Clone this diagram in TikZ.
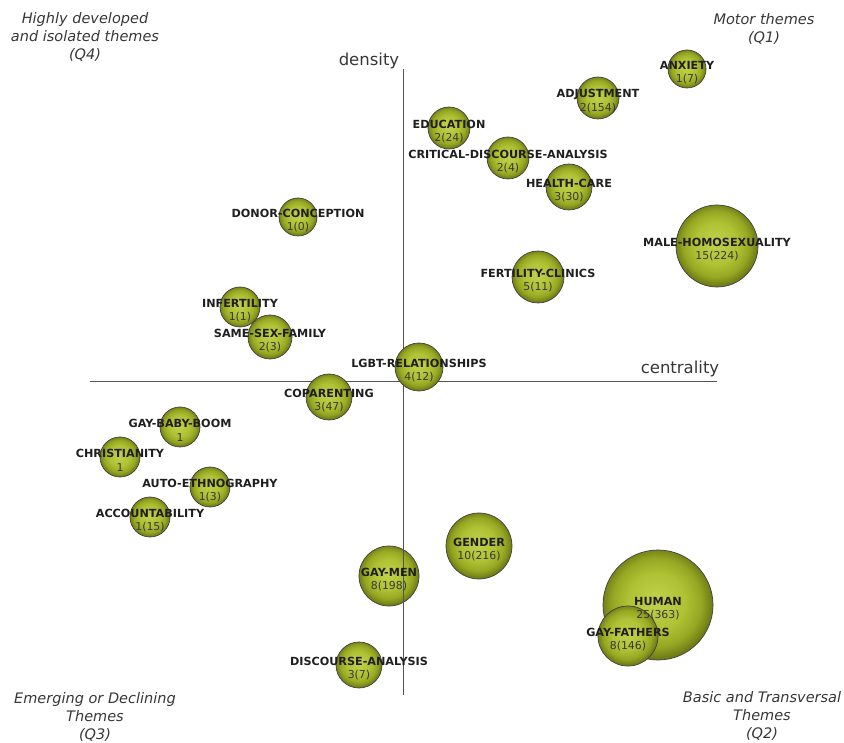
\documentclass[tikz,border=0pt]{standalone}
\usepackage{fontspec}
\setmainfont{DejaVu Sans}
\definecolor{bl}{RGB}{192,210,78}
\definecolor{bm}{RGB}{174,194,52}
\definecolor{bd}{RGB}{150,168,35}
\definecolor{bdd}{RGB}{112,125,22}
\definecolor{axisgray}{RGB}{85,85,85}
\definecolor{txtgray}{RGB}{55,55,55}
\pgfdeclareradialshading{bubble}{\pgfpoint{-1bp}{2bp}}{color(0bp)=(bl); color(13bp)=(bm); color(20bp)=(bd); color(25bp)=(bdd); color(50bp)=(bdd)}
\tikzset{
  bub/.style={circle, draw=black!75, line width=0.7pt, shading=bubble, inner sep=0pt, minimum size=#1},
  lab/.style={font=\bfseries\fontsize{11.2}{12}\selectfont, text=black!88, inner sep=0pt},
  num/.style={font=\fontsize{10.9}{12}\selectfont, text=txtgray, inner sep=0pt},
  axisline/.style={draw=axisgray, line width=0.8pt},
  axlab/.style={font=\fontsize{16.5}{18}\selectfont, text=txtgray, inner sep=0pt},
  quad/.style={font=\itshape\fontsize{14.5}{18}\selectfont, text=txtgray, align=center, inner sep=0pt}
}
\begin{document}
\begin{tikzpicture}[x=1pt, y=-1pt]
\useasboundingbox (0,0) rectangle (844,743);
% axes
\draw[axisline] (90,381) -- (717,381);
\draw[axisline] (403,69) -- (403,695);
\node[axlab] (dens) at (369,61) {density};
\node[axlab] (cent) at (680,369) {centrality};
% quadrant titles
\node[quad] (q4) at (85,37) {Highly developed\\and isolated themes\\(Q4)};
\node[quad] (q1) at (764,29) {Motor themes\\(Q1)};
\node[quad] (q3) at (95,717) {Emerging or Declining\\Themes\\(Q3)};
\node[quad] (q2) at (762,716) {Basic and Transversal\\Themes\\(Q2)};
% bubbles
\def\bubblelist{anx/687/69/19/ANXIETY/1(7),
adj/598/98/21/ADJUSTMENT/2(154),
edu/449/128/21/EDUCATION/2(24),
cda/508/158/21/CRITICAL-DISCOURSE-ANALYSIS/2(4),
hc/569/187/23/HEALTH-CARE/3(30),
don/298/217/19/DONOR-CONCEPTION/1(0),
mh/717/246/41/MALE-HOMOSEXUALITY/15(224),
fc/538/277/26/FERTILITY-CLINICS/5(11),
inf/240/307/20/INFERTILITY/1(1),
ssf/270/337/22/SAME-SEX-FAMILY/2(3),
lgbt/419/367/24/LGBT-RELATIONSHIPS/4(12),
cop/329/397/23/COPARENTING/3(47),
gbb/180/427/20/GAY-BABY-BOOM/1,
chr/120/457/20/CHRISTIANITY/1,
aeth/210/487/20/AUTO-ETHNOGRAPHY/1(3),
acc/150/517/20/ACCOUNTABILITY/1(15),
gen/479/546/33/GENDER/10(216),
gm/389/576/30/GAY-MEN/8(198),
da/359/665/23/DISCOURSE-ANALYSIS/3(7),
hum/658/605/55/HUMAN/25(363),
gf/628/636/30/GAY-FATHERS/8(146)}
\foreach \n/\x/\y/\r/\lab/\num in \bubblelist {
  \node[bub=2*\r pt] (c\n) at (\x,\y) {};
}
% lower part of the vertical axis shows over the bubbles
\draw[axisline] (403,520) -- (403,695);
\foreach \n/\x/\y/\r/\lab/\num in \bubblelist {
  \node[lab] (l\n) at (\x,\y-3.5) {\lab};
  \node[num] (n\n) at (\x,\y+10.5) {\num};
}
\end{tikzpicture}
\end{document}
